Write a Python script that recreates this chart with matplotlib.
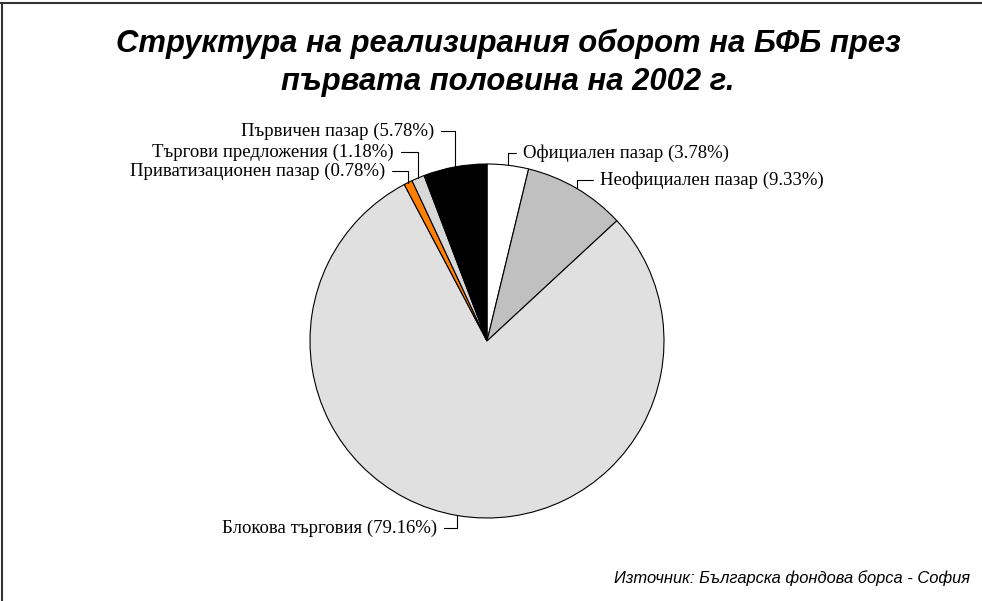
import numpy as np
import matplotlib.pyplot as plt
from matplotlib.lines import Line2D

labels = ['Официален пазар', 'Неофициален пазар', 'Блокова търговия',
          'Приватизационен пазар', 'Търгови предложения', 'Първичен пазар']
shares = [3.78, 9.33, 79.16, 0.78, 1.18, 5.78]
colors = ['#ffffff', '#c0c0c0', '#e0e0e0', '#ff8000', '#d8d8d8', '#000000']

# label text anchor (pixels from top-left), horizontal alignment
label_pos = [(523, 153, 'left'), (600, 180, 'left'), (437, 528, 'right'),
             (385, 171, 'right'), (394, 152, 'right'), (434, 131, 'right')]

W, H = 982, 601
fig = plt.figure(figsize=(W / 100, H / 100), dpi=100)
ax = fig.add_axes([0, 0, 1, 1])

cx, cy, r = 487, H - 341, 177
wedges, _ = ax.pie(shares, colors=colors, startangle=90, counterclock=False,
                   center=(cx, cy), radius=r, frame=True,
                   wedgeprops=dict(edgecolor='#000000', linewidth=0.8))
ax.set_xlim(0, W)
ax.set_ylim(0, H)
ax.set_aspect('equal')
ax.axis('off')

for w, lab, val, (tx, ty, ha) in zip(wedges, labels, shares, label_pos):
    ang = np.deg2rad((w.theta1 + w.theta2) / 2)
    px, py = cx + r * np.cos(ang), cy + r * np.sin(ang)
    ax.annotate(f'{lab} ({val:.2f}%)', xy=(px, py), xytext=(tx, H - ty),
                ha=ha, va='center', fontsize=13.5, family='Liberation Serif',
                arrowprops=dict(arrowstyle='-', lw=0.8, color='#000000',
                                shrinkA=3, shrinkB=0,
                                connectionstyle='angle,angleA=0,angleB=90,rad=0'))

title_lines = ['Структура на реализирания оборот на БФБ през', 'първата половина на 2002 г.']
for line, base in zip(title_lines, [52, 90]):
    fig.text(508 / W, 1 - base / H, line, ha='center', va='baseline', fontsize=22.3,
             fontweight='bold', fontstyle='italic', family='Liberation Sans')
fig.text(970 / W, 1 - 578 / H, 'Източник: Българска фондова борса - София',
         ha='right', va='center', fontsize=11.9, fontstyle='italic', family='Liberation Sans')

fig.add_artist(Line2D([0, 1], [1 - 2.5 / H, 1 - 2.5 / H], color='#333333', lw=1.5,
                      transform=fig.transFigure))
fig.add_artist(Line2D([1.5 / W, 1.5 / W], [0, 1 - 2.5 / H], color='#333333', lw=1.5,
                      transform=fig.transFigure))

fig.savefig('out.png', dpi=100)
